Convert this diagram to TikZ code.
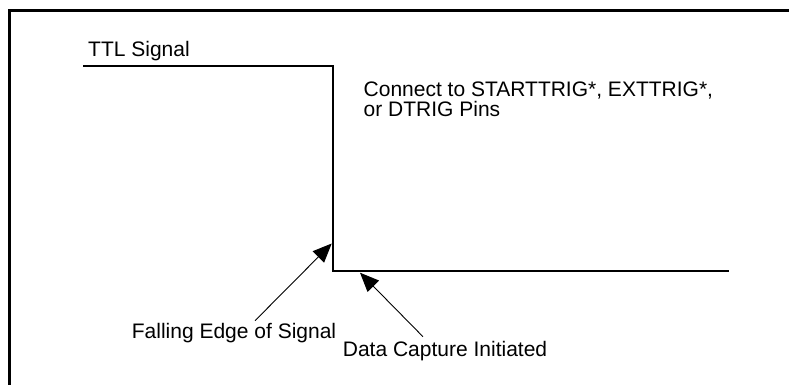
\documentclass[tikz,border=0pt]{standalone}
\usepackage{fontspec}
\setmainfont{Liberation Sans}
\usetikzlibrary{arrows.meta}
\begin{document}
\begin{tikzpicture}[x=1pt,y=-1pt,
  lbl/.style={inner sep=0pt,font=\fontsize{21}{20}\selectfont},
  frameline/.style={line width=2.7pt,line cap=rect},
  signal/.style={line width=1.7pt},
  pointer/.style={line width=0.9pt,-{Triangle[length=19pt,width=16pt]}}]
\useasboundingbox (0,0) rectangle (789,384);
% frame
\coordinate (fa) at (789,10.5);
\coordinate (fb) at (9.3,10.5);
\coordinate (fc) at (9.3,384);
\draw[frameline] (fa) -- (fb) -- (fc);
% signal
\coordinate (s0) at (83,66);
\coordinate (s1) at (332.7,66);
\coordinate (s2) at (332.7,271);
\coordinate (s3) at (729,271);
\draw[signal] (s0) -- (s1) -- (s2) -- (s3);
% labels
\node[lbl,anchor=base west] (ttl) at (88,56.7) {TTL Signal};
\node[lbl,anchor=base west] (con1) at (363.5,96.7) {Connect to STARTTRIG*, EXTTRIG*,};
\node[lbl,anchor=base west] (con2) at (363.5,116.7) {or DTRIG Pins};
\node[lbl,anchor=base west] (fall) at (131.7,338.3) {Falling Edge of Signal};
\node[lbl,anchor=base west] (cap) at (342.7,356.7) {Data Capture Initiated};
% pointers
\coordinate (t1) at (255,320.7);
\coordinate (h1) at (331.7,243.5);
\coordinate (t2) at (423,336.7);
\coordinate (h2) at (360,272.7);
\draw[pointer] (t1) -- (h1);
\draw[pointer] (t2) -- (h2);
\end{tikzpicture}
\end{document}
